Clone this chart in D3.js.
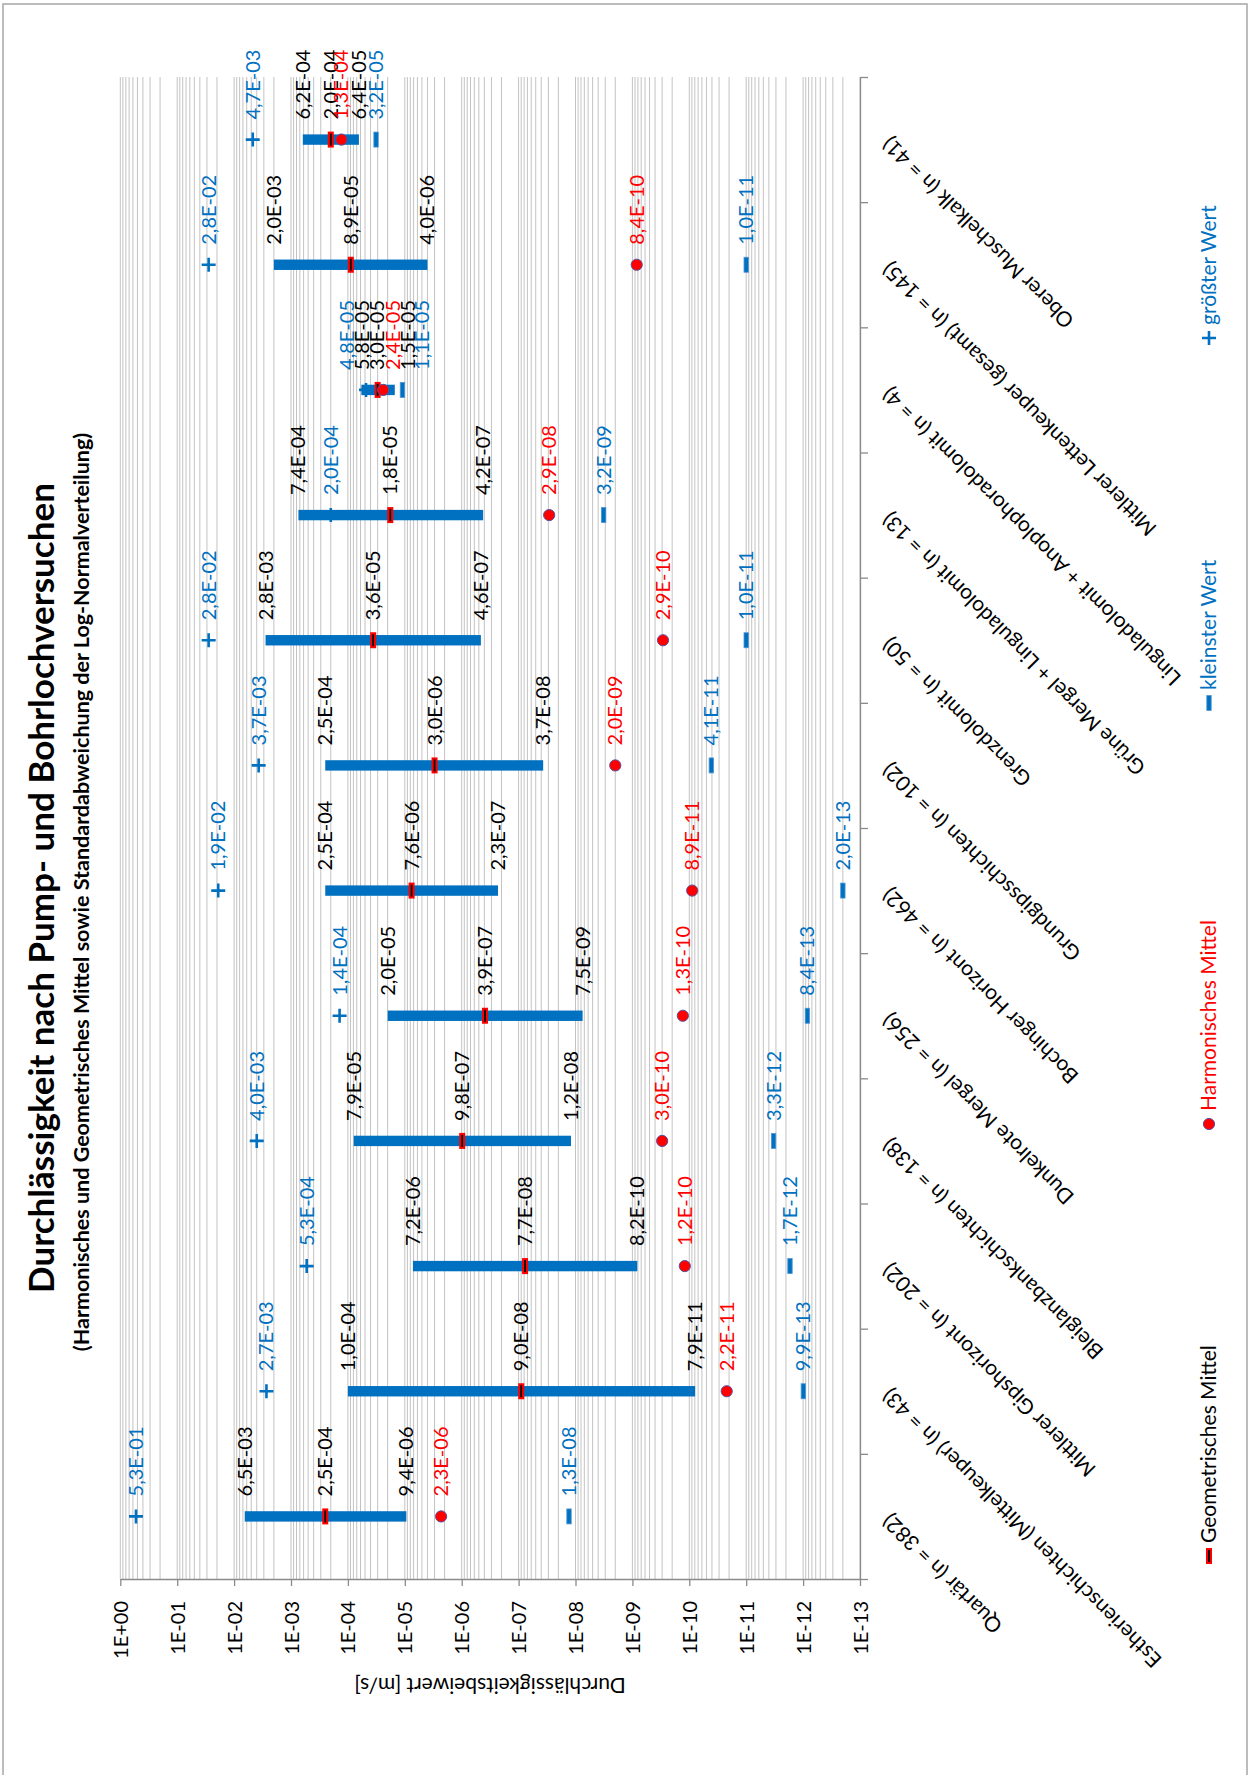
<!DOCTYPE html>
<html>
<head>
<meta charset="utf-8">
<script src="https://cdn.jsdelivr.net/npm/d3@7"></script>
<style>
  body { margin: 0; background: #fff; }
  svg { display: block; }
  text { font-family: Lato, "Open Sans", sans-serif; }
</style>
</head>
<body>
<svg id="chart" width="1250" height="1775"></svg>
<script>
// Formations, listed from the top of the page downwards
const categories = [
  "Oberer Muschelkalk (n = 41)",
  "Mittlerer Lettenkeuper (gesamt) (n = 145)",
  "Linguladolomit + Anoplophoradolomit (n = 4)",
  "Grüne Mergel + Linguladolomit (n = 13)",
  "Grenzdolomit (n = 50)",
  "Grundgipsschichten (n = 102)",
  "Bochinger Horizont (n = 462)",
  "Dunkelrote Mergel (n = 256)",
  "Bleiglanzbankschichten (n = 138)",
  "Mittlerer Gipshorizont (n = 202)",
  "Estherienschichten (Mittelkeuper) (n = 43)",
  "Quartär (n = 382)"
];

// Permeability coefficients [m/s]
const maxValues   = [4.7e-3, 2.8e-2, 4.8e-5, 2.0e-4, 2.8e-2, 3.7e-3, 1.9e-2, 1.4e-4, 4.0e-3, 5.3e-4, 2.7e-3, 5.3e-1];
const upperValues = [6.2e-4, 2.0e-3, 5.8e-5, 7.4e-4, 2.8e-3, 2.5e-4, 2.5e-4, 2.0e-5, 7.9e-5, 7.2e-6, 1.0e-4, 6.5e-3];
const geoMeans    = [2.0e-4, 8.9e-5, 3.0e-5, 1.8e-5, 3.6e-5, 3.0e-6, 7.6e-6, 3.9e-7, 9.8e-7, 7.7e-8, 9.0e-8, 2.5e-4];
const lowerValues = [6.4e-5, 4.0e-6, 1.5e-5, 4.2e-7, 4.6e-7, 3.7e-8, 2.3e-7, 7.5e-9, 1.2e-8, 8.2e-10, 7.9e-11, 9.4e-6];
const harmMeans   = [1.3e-4, 8.4e-10, 2.4e-5, 2.9e-8, 2.9e-10, 2.0e-9, 8.9e-11, 1.3e-10, 3.0e-10, 1.2e-10, 2.2e-11, 2.3e-6];
const minValues   = [3.2e-5, 1.0e-11, 1.1e-5, 3.2e-9, 1.0e-11, 4.1e-11, 2.0e-13, 8.4e-13, 3.3e-12, 1.7e-12, 9.9e-13, 1.3e-8];

const tickLabels = ["1E+00", "1E-01", "1E-02", "1E-03", "1E-04", "1E-05", "1E-06",
                    "1E-07", "1E-08", "1E-09", "1E-10", "1E-11", "1E-12", "1E-13"];

const legendLabels = ["größter Wert", "kleinster Wert", "Harmonisches Mittel", "Geometrisches Mittel"];

// ---- layout ----
const W = 1250, H = 1775;
const plotLeft = 120.3, plotRight = 860, plotTop = 77, plotBottom = 1579;
const BLUE = "#0070c0", RED = "#ff0000", GRID = "#c3c3c3", AXIS = "#8a8a8a";
const FS = 20;

// horizontal nudges (px) for crowded value labels, per row:
// order = max, upper, geo, lower, harm, min
const labelShift = { 2: [-19, 1, -0.5, 13, 10, 19.5] };

const svg = d3.select("#chart");

// outer frame
svg.append("rect").attr("x", 3).attr("y", 4).attr("width", W - 6).attr("height", H + 20)
  .attr("fill", "none").attr("stroke", "#a6a6a6").attr("stroke-width", 1.5);

const x = d3.scaleLog().domain([1, 1e-13]).range([plotLeft, plotRight]);
const y = d3.scaleBand().domain(categories).range([plotTop, plotBottom]);
const cy = c => y(c) + y.bandwidth() / 2;

const tickValues = tickLabels.map(Number);

// logarithmic gridlines (1..9 per decade)
const gridValues = [];
tickValues.forEach(dec => {
  for (let m = 1; m <= 9; m++) {
    const v = m * dec;
    if (v <= 1 && v >= 1e-13) gridValues.push(v);
  }
});
svg.append("g").selectAll("line").data(gridValues).join("line")
  .attr("x1", d => x(d)).attr("x2", d => x(d))
  .attr("y1", plotTop).attr("y2", plotBottom)
  .attr("stroke", GRID).attr("stroke-width", 1);

// value axis
const gx = svg.append("g").attr("transform", `translate(0,${plotBottom})`)
  .call(d3.axisBottom(x).tickValues(tickValues).tickFormat((d, i) => tickLabels[i])
    .tickSizeInner(7).tickSizeOuter(0));
gx.select(".domain").attr("stroke", AXIS).attr("stroke-width", 1.3);
gx.selectAll(".tick line").attr("stroke", AXIS).attr("stroke-width", 1.3);
gx.selectAll(".tick text")
  .attr("x", 0).attr("y", 0).attr("dy", "0.35em")
  .attr("transform", "translate(0,22) rotate(-90)")
  .attr("text-anchor", "end")
  .attr("fill", "#000").attr("font-size", FS).attr("font-family", "Lato, sans-serif");

// category axis with ticks on the band boundaries
const yb = d3.scaleLinear().domain([0, categories.length]).range([plotTop, plotBottom]);
const gy = svg.append("g").attr("transform", `translate(${plotRight},0)`)
  .call(d3.axisRight(yb).tickValues(d3.range(categories.length + 1)).tickFormat("")
    .tickSizeInner(8).tickSizeOuter(0));
gy.select(".domain").attr("stroke", AXIS).attr("stroke-width", 1.3);
gy.selectAll(".tick line").attr("stroke", AXIS).attr("stroke-width", 1.3);

svg.append("g").selectAll("text").data(categories).join("text")
  .attr("transform", d => `translate(886,${cy(d) + 1}) rotate(-135)`)
  .attr("text-anchor", "end").attr("dy", "0.35em")
  .attr("font-size", 21).attr("fill", "#000")
  .text(d => d);

// range bars: geometric mean +/- one standard deviation
svg.append("g").selectAll("rect").data(categories).join("rect")
  .attr("x", (d, i) => x(upperValues[i]))
  .attr("width", (d, i) => x(lowerValues[i]) - x(upperValues[i]))
  .attr("y", d => cy(d) - 5.2).attr("height", 10.4)
  .attr("fill", BLUE);

// largest value (+)
svg.append("g").selectAll("path").data(categories).join("path")
  .attr("transform", (d, i) => `translate(${x(maxValues[i])},${cy(d)})`)
  .attr("d", "M-7,0H7M0,-7V7").attr("stroke", BLUE).attr("stroke-width", 2.6).attr("fill", "none");

// smallest value (dash)
svg.append("g").selectAll("rect").data(categories).join("rect")
  .attr("x", (d, i) => x(minValues[i]) - 2.2).attr("y", d => cy(d) - 7.5)
  .attr("width", 4.4).attr("height", 15)
  .attr("fill", BLUE).attr("stroke", "#4f95d3").attr("stroke-width", 0.8);

// geometric mean
const geo = svg.append("g").selectAll("g").data(categories).join("g")
  .attr("transform", (d, i) => `translate(${x(geoMeans[i])},${cy(d)})`);
geo.append("rect").attr("x", -3).attr("y", -8).attr("width", 6).attr("height", 16).attr("fill", RED);
geo.append("line").attr("x1", 0).attr("x2", 0).attr("y1", -6).attr("y2", 6)
  .attr("stroke", "#000").attr("stroke-width", 1.8);

// harmonic mean
svg.append("g").selectAll("circle").data(categories).join("circle")
  .attr("cx", (d, i) => x(harmMeans[i])).attr("cy", d => cy(d)).attr("r", 5.6)
  .attr("fill", RED).attr("stroke", "#5b4f9e").attr("stroke-width", 1);

// value labels
function fmt(v) {
  const [m, e] = v.toExponential(1).split("e");
  const n = +e;
  return m.replace(".", ",") + "E" + (n < 0 ? "-" : "+") + String(Math.abs(n)).padStart(2, "0");
}
const labelSeries = [
  { values: maxValues, color: BLUE },
  { values: upperValues, color: "#000" },
  { values: geoMeans, color: "#000" },
  { values: lowerValues, color: "#000" },
  { values: harmMeans, color: RED },
  { values: minValues, color: BLUE }
];
const labels = svg.append("g");
labelSeries.forEach((s, k) => {
  labels.append("g").selectAll("text").data(categories).join("text")
    .attr("transform", (d, i) => {
      const dx = labelShift[i] ? labelShift[i][k] : 0;
      return `translate(${x(s.values[i]) + dx},${cy(d) - 20}) rotate(-90)`;
    })
    .attr("dy", "0.35em").attr("text-anchor", "start")
    .attr("font-size", FS).attr("fill", s.color)
    .text((d, i) => fmt(s.values[i]));
});

// axis title (upside down)
svg.append("text")
  .attr("transform", `translate(${(plotLeft + plotRight) / 2},1685) rotate(180)`)
  .attr("text-anchor", "middle").attr("dy", "0.35em")
  .attr("font-size", 21).attr("fill", "#000")
  .text("Durchlässigkeitsbeiwert [m/s]");

// title and subtitle
svg.append("text")
  .attr("transform", "translate(54,888) rotate(-90)")
  .attr("text-anchor", "middle").attr("font-weight", "bold")
  .attr("font-size", 35).attr("fill", "#000")
  .text("Durchlässigkeit nach Pump- und Bohrlochversuchen");
svg.append("text")
  .attr("transform", "translate(89,892) rotate(-90)")
  .attr("text-anchor", "middle").attr("font-weight", "bold")
  .attr("font-size", 21.5).attr("fill", "#000")
  .text("(Harmonisches und Geometrisches Mittel sowie Standardabweichung der Log-Normalverteilung)");

// legend
const legendX = 1209;
const legendY = [338, 703, 1124, 1556];
const legendColors = [BLUE, BLUE, RED, "#000"];
const lg = svg.append("g");
legendLabels.forEach((t, i) => {
  const g = lg.append("g").attr("transform", `translate(${legendX},${legendY[i]})`);
  if (i === 0) g.append("path").attr("d", "M-7,0H7M0,-7V7").attr("stroke", BLUE).attr("stroke-width", 2.6);
  if (i === 1) g.append("rect").attr("x", -2.2).attr("y", -7.5).attr("width", 4.4).attr("height", 15)
    .attr("fill", BLUE).attr("stroke", "#4f95d3").attr("stroke-width", 0.8);
  if (i === 2) g.append("circle").attr("r", 5.6).attr("fill", RED).attr("stroke", "#5b4f9e").attr("stroke-width", 1);
  if (i === 3) {
    g.append("rect").attr("x", -3).attr("y", -8).attr("width", 6).attr("height", 16).attr("fill", RED);
    g.append("line").attr("y1", -6).attr("y2", 6).attr("stroke", "#000").attr("stroke-width", 1.8);
  }
  g.append("text").attr("transform", "translate(0,-13) rotate(-90)")
    .attr("dy", "0.35em").attr("text-anchor", "start")
    .attr("font-size", FS + 1).attr("fill", legendColors[i]).text(t);
});
</script>
</body>
</html>
